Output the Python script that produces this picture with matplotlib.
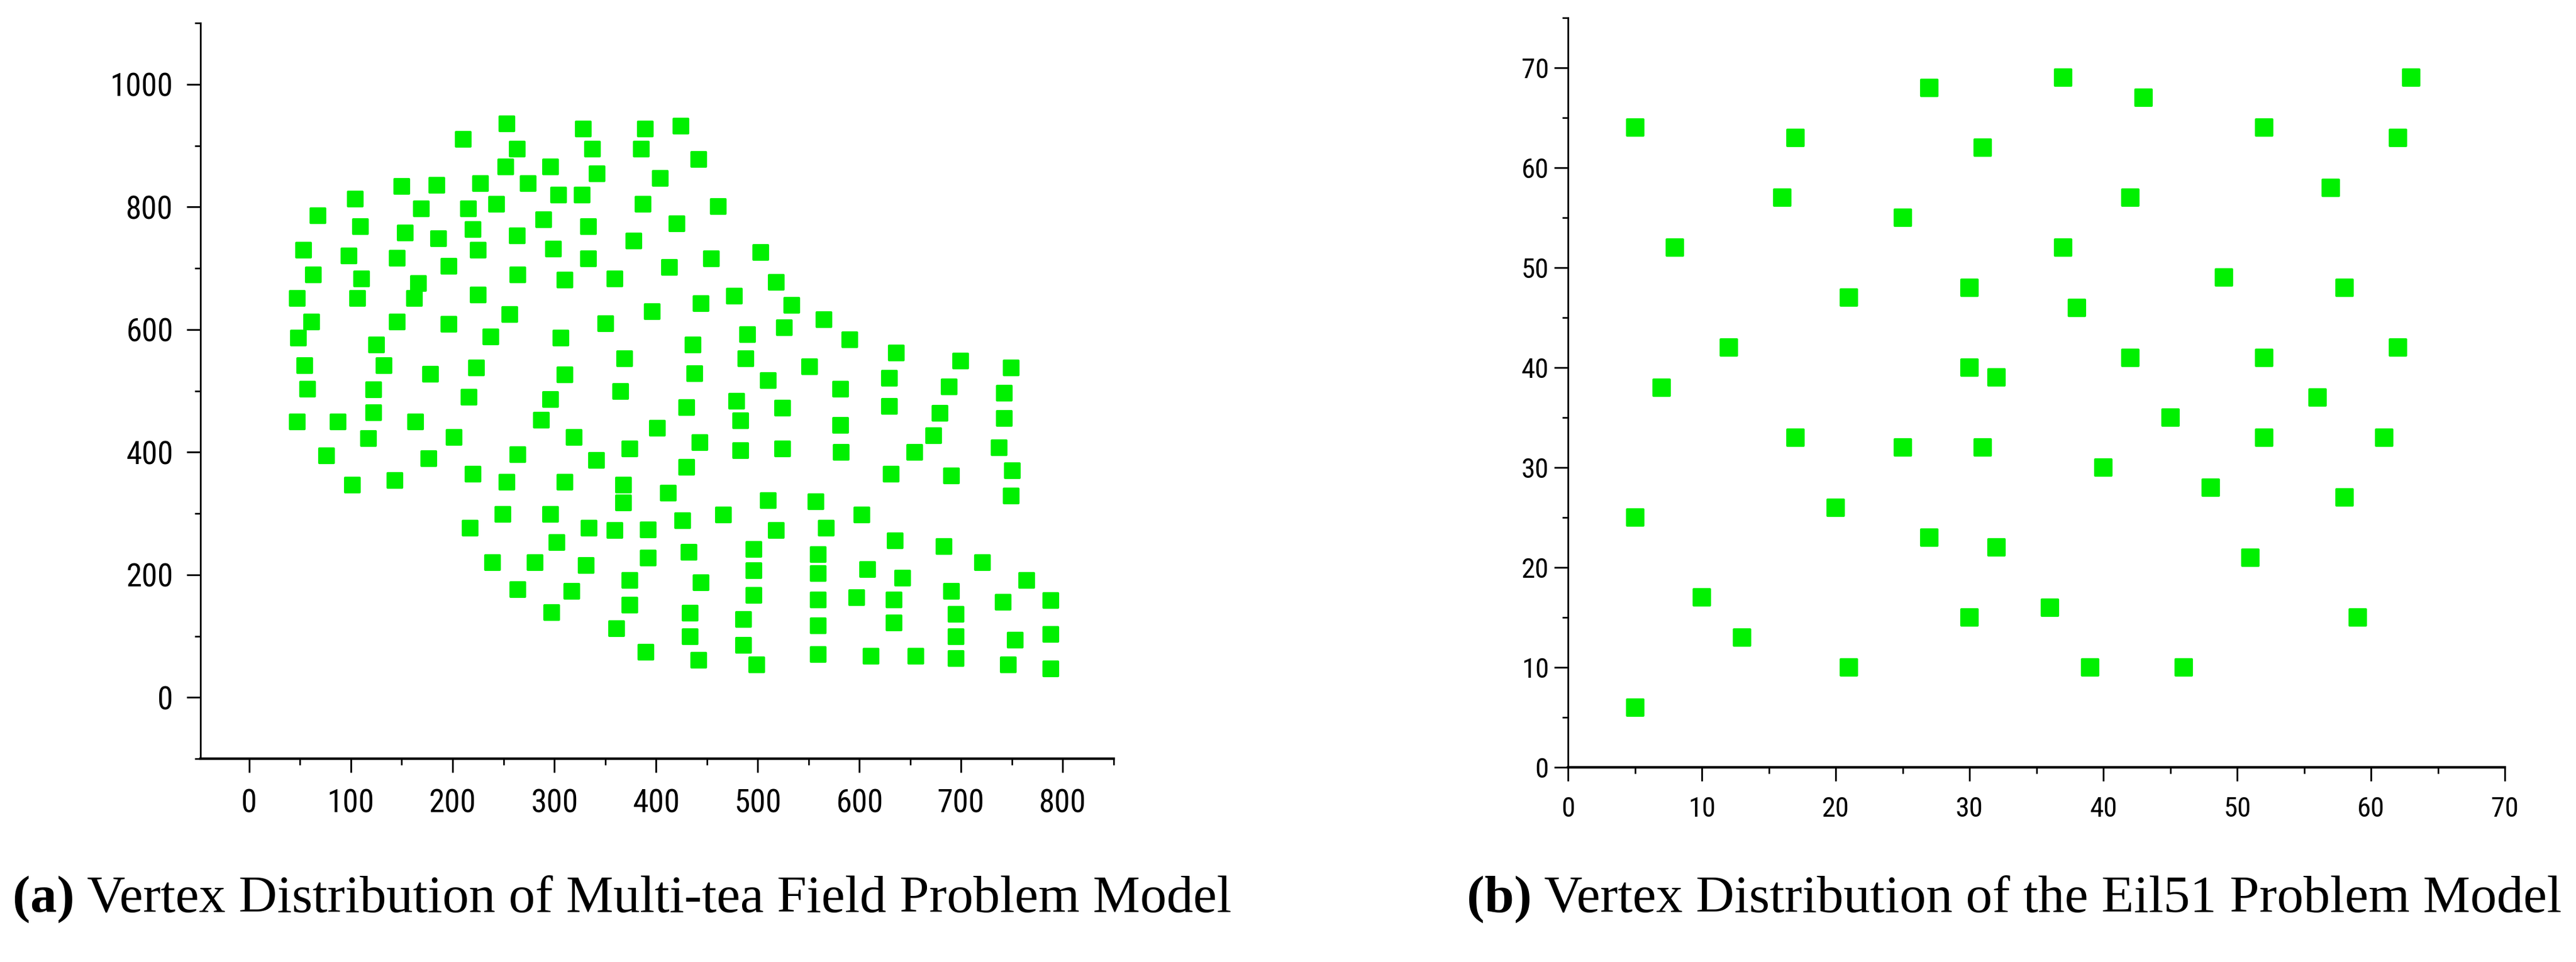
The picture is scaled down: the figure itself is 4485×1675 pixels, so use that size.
import matplotlib
matplotlib.use('Agg')
import matplotlib.pyplot as plt
from matplotlib.markers import MarkerStyle
from matplotlib.ticker import MultipleLocator

# (a) multi-tea field vertices (x, y)
tea_field = [
    (253, 936), (328, 928), (389, 928), (424, 932), (210, 911), (263, 895), (337, 895), (385, 895),
    (442, 878), (252, 866), (296, 866), (342, 855), (404, 847), (227, 839), (274, 839), (150, 834),
    (184, 836), (327, 820), (304, 820), (104, 813), (243, 805), (387, 805), (461, 801), (169, 797),
    (215, 797), (67, 786), (289, 780), (420, 773), (109, 768), (333, 768), (220, 764), (153, 758),
    (263, 753), (186, 749), (378, 745), (53, 730), (225, 730), (299, 732), (503, 726), (98, 721),
    (145, 717), (333, 716), (454, 716), (196, 704), (413, 702), (63, 690), (264, 690), (110, 683),
    (310, 681), (359, 683), (518, 678), (166, 676), (225, 657), (477, 655), (162, 651), (47, 651),
    (106, 651), (444, 643), (533, 640), (396, 630), (256, 625), (61, 613), (145, 613), (350, 610),
    (196, 609), (565, 617), (526, 604), (237, 589), (48, 587), (306, 587), (490, 592), (590, 584),
    (125, 575), (436, 575), (636, 562), (369, 553), (488, 553), (699, 549), (749, 538), (54, 542),
    (132, 542), (551, 540), (223, 538), (438, 529), (178, 528), (310, 527), (629, 521), (510, 517),
    (688, 507), (57, 503), (122, 502), (365, 500), (581, 503), (742, 497), (216, 490), (296, 486),
    (479, 484), (629, 475), (430, 473), (524, 472), (679, 464), (122, 465), (742, 456), (47, 450),
    (87, 450), (163, 450), (287, 453), (483, 452), (581, 444), (401, 440), (673, 427), (117, 423),
    (201, 425), (319, 425), (443, 416), (737, 408), (374, 406), (524, 406), (483, 403), (582, 400),
    (654, 400), (264, 397), (76, 395), (176, 390), (341, 387), (430, 376), (750, 370), (220, 365),
    (631, 365), (690, 362), (143, 354), (253, 352), (310, 352), (101, 347), (368, 347), (412, 334),
    (749, 329), (510, 322), (557, 320), (368, 318), (249, 299), (296, 299), (466, 298), (602, 298),
    (426, 289), (217, 277), (334, 277), (359, 273), (392, 274), (567, 277), (518, 273), (635, 256),
    (302, 253), (683, 247), (496, 242), (432, 237), (559, 234), (392, 228), (239, 220), (281, 220),
    (721, 220), (331, 216), (496, 207), (608, 209), (559, 203), (642, 195), (374, 191), (764, 191),
    (444, 188), (264, 176), (317, 174), (690, 174), (496, 167), (597, 163), (559, 160), (634, 160),
    (788, 159), (741, 156), (374, 151), (297, 139), (433, 138), (695, 136), (486, 128), (634, 122),
    (559, 117), (361, 113), (433, 100), (695, 100), (788, 103), (753, 94), (486, 86), (390, 74),
    (559, 71), (611, 68), (655, 68), (695, 64), (442, 61), (499, 54), (746, 54), (788, 47),
]
tea_x = [p[0] for p in tea_field]
tea_y = [p[1] for p in tea_field]

# (b) Eil51 vertices
eil_x = [37, 49, 52, 20, 40, 21, 17, 31, 52, 51, 42, 31, 5, 12, 36, 52, 27, 17, 13, 57, 62, 42, 16,
         8, 7, 27, 30, 43, 58, 58, 37, 38, 46, 61, 62, 63, 32, 45, 59, 5, 10, 21, 5, 30, 39, 32, 25,
         25, 48, 56, 30]
eil_y = [52, 49, 64, 26, 30, 47, 63, 62, 33, 21, 41, 32, 25, 42, 16, 41, 23, 33, 13, 58, 42, 57, 57,
         52, 38, 68, 48, 67, 48, 27, 69, 46, 10, 33, 63, 69, 22, 35, 15, 6, 17, 10, 64, 15, 10, 39, 32,
         55, 28, 37, 40]

left_xticks = [0, 100, 200, 300, 400, 500, 600, 700, 800]
left_yticks = [0, 200, 400, 600, 800, 1000]
right_ticks = [0, 10, 20, 30, 40, 50, 60, 70]

captions = [("(a)", " Vertex Distribution of Multi-tea Field Problem Model"),
            ("(b)", " Vertex Distribution of the Eil51 Problem Model")]

GREEN = '#00f000'
TICK_FONT = ['Roboto Condensed', 'DejaVu Sans']
CAP_FONT = ['Liberation Serif', 'DejaVu Serif']


def style_axes(ax, label_size, xpad, ypad):
    for side in ('top', 'right'):
        ax.spines[side].set_visible(False)
    ax.spines['left'].set_linewidth(2.2)
    ax.spines['bottom'].set_linewidth(3.2)
    ax.tick_params(axis='both', which='major', direction='out', width=2.2, labelsize=label_size)
    ax.tick_params(axis='both', which='minor', direction='out', width=2.0)
    ax.tick_params(axis='x', which='major', length=17, pad=xpad)
    ax.tick_params(axis='x', which='minor', length=8)
    ax.tick_params(axis='y', which='major', length=17, pad=ypad)
    ax.tick_params(axis='y', which='minor', length=7)
    for lab in ax.get_xticklabels() + ax.get_yticklabels():
        lab.set_family(TICK_FONT)


fig = plt.figure(figsize=(44.85, 16.75), dpi=100)

# left panel
ax1 = fig.add_axes([0.0778, 0.2113, 0.3545, 0.7648])
ax1.scatter(tea_x, tea_y, s=18**2, c=GREEN, edgecolors=GREEN, linewidths=3,
            marker=MarkerStyle('s', joinstyle='round'), zorder=3)
ax1.set_xlim(-48, 850)
ax1.set_ylim(-100, 1100)
ax1.set_xticks(left_xticks)
ax1.set_yticks(left_yticks)
ax1.xaxis.set_minor_locator(MultipleLocator(50))
ax1.yaxis.set_minor_locator(MultipleLocator(100))
style_axes(ax1, 40, 20, 17)

# right panel
ax2 = fig.add_axes([0.6087, 0.2024, 0.3637, 0.7791])
ax2.scatter(eil_x, eil_y, s=20**2, c=GREEN, edgecolors=GREEN, linewidths=3,
            marker=MarkerStyle('s', joinstyle='round'), zorder=3)
ax2.set_xlim(0, 70)
ax2.set_ylim(0, 75)
ax2.set_xticks(right_ticks)
ax2.set_yticks(right_ticks)
ax2.xaxis.set_minor_locator(MultipleLocator(5))
ax2.yaxis.set_minor_locator(MultipleLocator(5))
style_axes(ax2, 35, 19, 7)

# captions: bold tag followed by regular text
fig.canvas.draw()
renderer = fig.canvas.get_renderer()
for (tag, text), x0 in zip(captions, [0.005, 0.5695]):
    t = fig.text(x0, 0.052, tag, fontsize=66.5, fontweight='bold', family=CAP_FONT, va='baseline')
    bb = t.get_window_extent(renderer)
    x1 = fig.transFigure.inverted().transform((bb.x1, bb.y0))[0]
    fig.text(x1, 0.052, text, fontsize=66.5, family=CAP_FONT, va='baseline')

fig.savefig('out.png', dpi=100, facecolor='white')
